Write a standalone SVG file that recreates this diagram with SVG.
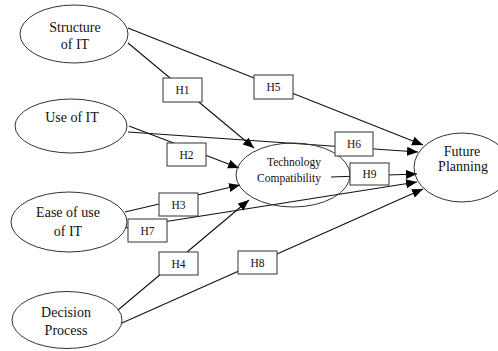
<svg xmlns="http://www.w3.org/2000/svg" width="498" height="351" viewBox="0 0 498 351" font-family="'Liberation Serif', 'Times New Roman', 'DejaVu Serif', serif">
<defs>
<marker id="ah" markerUnits="userSpaceOnUse" markerWidth="12" markerHeight="10" refX="11" refY="4.5" orient="auto">
<path d="M0,0 L11,4.5 L0,9 Z" fill="#000"/>
</marker>
<style>
.node ellipse{fill:none;stroke:#333;stroke-width:1}
.lbl rect{fill:#fff;stroke:#333;stroke-width:1}
text{font-family:'Liberation Serif','Times New Roman','DejaVu Serif',serif;fill:#111;text-anchor:middle}
.big{font-size:14px}
.mid{font-size:11.5px}
.sm{font-size:11.5px}
.conn line{stroke:#111;stroke-width:1.1;fill:none}
.conn line.a{marker-end:url(#ah)}
</style>
</defs>
<rect width="498" height="351" fill="#fff"/>
<g id="connectors" class="conn">
<line class="a" x1="128" y1="28" x2="423" y2="145"/>
<line class="a" x1="128" y1="43" x2="254" y2="148"/>
<line class="a" x1="128" y1="132" x2="418" y2="152"/>
<line class="a" x1="129" y1="126" x2="239" y2="168"/>
<line class="a" x1="125" y1="212" x2="240" y2="185"/>
<line class="a" x1="125" y1="228" x2="417" y2="182"/>
<line class="a" x1="118" y1="310" x2="249" y2="200"/>
<line class="a" x1="122" y1="323" x2="423" y2="189"/>
<line class="a" x1="331" y1="177" x2="417" y2="174"/>
</g>
<g id="n-structure" class="node">
<ellipse cx="74" cy="34" rx="54" ry="29"/>
<text class="big" x="75" y="32" font-family="Liberation Serif, serif">Structure</text>
<text class="big" x="75" y="49" font-family="Liberation Serif, serif">of IT</text>
</g>
<g id="n-use" class="node">
<ellipse cx="71" cy="126" rx="56" ry="27"/>
<text class="big" x="72" y="122" font-family="Liberation Serif, serif">Use of IT</text>
</g>
<g id="n-ease" class="node">
<ellipse cx="69" cy="222" rx="58" ry="30"/>
<text class="big" x="68" y="217" font-family="Liberation Serif, serif">Ease of use</text>
<text class="big" x="68" y="236" font-family="Liberation Serif, serif">of IT</text>
</g>
<g id="n-decision" class="node">
<ellipse cx="67" cy="320" rx="55" ry="28.5"/>
<text class="big" x="66" y="317" font-family="Liberation Serif, serif">Decision</text>
<text class="big" x="66" y="335" font-family="Liberation Serif, serif">Process</text>
</g>
<g id="n-tc" class="node">
<ellipse cx="293" cy="175" rx="57" ry="32"/>
<text class="mid" x="294" y="166" font-family="Liberation Serif, serif">Technology</text>
<text class="mid" x="289" y="182" font-family="Liberation Serif, serif">Compatibility</text>
</g>
<g id="n-fp" class="node">
<ellipse cx="462" cy="167.5" rx="48" ry="34.5"/>
<text class="big" x="462" y="156" font-family="Liberation Serif, serif">Future</text>
<text class="big" x="463" y="171" font-family="Liberation Serif, serif">Planning</text>
</g>
<g id="h1" class="lbl"><rect x="163" y="78" width="39" height="24"/><text class="sm" x="182.5" y="94" font-family="Liberation Serif, serif">H1</text></g>
<g id="h2" class="lbl"><rect x="167" y="143" width="39" height="23"/><text class="sm" x="186.5" y="158.5" font-family="Liberation Serif, serif">H2</text></g>
<g id="h3" class="lbl"><rect x="159" y="193" width="39" height="23"/><text class="sm" x="178.5" y="208.5" font-family="Liberation Serif, serif">H3</text></g>
<g id="h4" class="lbl"><rect x="159" y="252" width="39" height="23"/><text class="sm" x="178.5" y="267.5" font-family="Liberation Serif, serif">H4</text></g>
<g id="h5" class="lbl"><rect x="254" y="75" width="39" height="24"/><text class="sm" x="273.5" y="91" font-family="Liberation Serif, serif">H5</text></g>
<g id="h6" class="lbl"><rect x="335" y="132" width="38" height="24"/><text class="sm" x="354" y="148" font-family="Liberation Serif, serif">H6</text></g>
<g id="h7" class="lbl"><rect x="128" y="219" width="39" height="23"/><text class="sm" x="147.5" y="234.5" font-family="Liberation Serif, serif">H7</text></g>
<g id="h8" class="lbl"><rect x="238" y="251" width="39" height="23"/><text class="sm" x="257.5" y="266.5" font-family="Liberation Serif, serif">H8</text></g>
<g id="h9" class="lbl"><rect x="350" y="163" width="39" height="22"/><text class="sm" x="369.5" y="178" font-family="Liberation Serif, serif">H9</text></g>
</svg>
